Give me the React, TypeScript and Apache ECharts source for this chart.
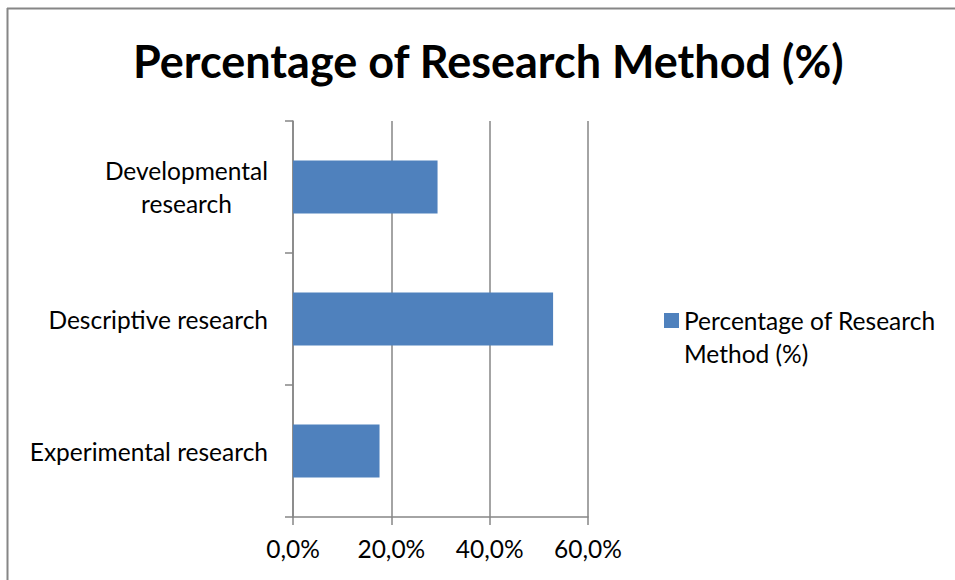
import React, { useEffect, useRef } from "react";
import * as echarts from "echarts";

const categories = ["Experimental research", "Descriptive research", "Developmental research"];
const values = [17.6, 52.9, 29.4];
const seriesName = "Percentage of Research Method (%)";
const titleText = "Percentage of Research Method (%)";
const axisMin = 0;
const axisMax = 60;
const axisInterval = 20;

const FONT = "Lato";
const GRAY = "#868686";
const FS = 24.5;

export default function App() {
  const ref = useRef<HTMLDivElement>(null);
  useEffect(() => {
    if (!ref.current) return;
    const chart = echarts.init(ref.current, null, { renderer: "svg" });
    chart.setOption({
      animation: false,
      backgroundColor: "#ffffff",
      textStyle: { fontFamily: FONT },
      title: {
        text: titleText,
        left: 128,
        top: 33,
        textStyle: { fontFamily: FONT, fontWeight: "bold", fontSize: 45, color: "#000" },
      },
      graphic: [
        { type: "line", shape: { x1: 7.5, y1: 8, x2: 7.5, y2: 600 }, style: { stroke: GRAY, lineWidth: 2 } },
        { type: "line", shape: { x1: 7, y1: 8.5, x2: 960, y2: 8.5 }, style: { stroke: GRAY, lineWidth: 2 } },
      ],
      legend: {
        left: 664,
        top: 271,
        padding: 0,
        itemWidth: 15,
        itemHeight: 15,
        icon: "rect",
        formatter: () => "{e| }\n{a|Percentage of Research}\n{a|Method (%)}",
        textStyle: {
          fontFamily: FONT,
          fontSize: FS,
          color: "#000",
          lineHeight: 33,
          rich: {
            e: { fontFamily: FONT, fontSize: FS, lineHeight: 33 },
            a: { fontFamily: FONT, fontSize: FS, lineHeight: 33, color: "#000" },
          },
        },
      },
      grid: { left: 293, right: 367, top: 121, bottom: 63, containLabel: false },
      xAxis: {
        type: "value",
        min: axisMin,
        max: axisMax,
        interval: axisInterval,
        axisLine: { show: true, lineStyle: { color: GRAY, width: 1.5 } },
        axisTick: { show: true, length: 8, lineStyle: { color: GRAY, width: 1.5 } },
        splitLine: { show: true, lineStyle: { color: GRAY, width: 1.5 } },
        axisLabel: {
          margin: 19,
          fontFamily: FONT,
          fontSize: FS,
          color: "#000",
          formatter: (v: number) => v.toFixed(1).replace(".", ",") + "%",
        },
      },
      yAxis: {
        type: "category",
        data: categories,
        axisLine: { show: true, lineStyle: { color: GRAY, width: 1.5 } },
        axisTick: { show: true, length: 8, lineStyle: { color: GRAY, width: 1.5 } },
        axisLabel: {
          margin: 25,
          fontFamily: FONT,
          fontSize: FS,
          color: "#000",
          lineHeight: 33,
          formatter: (v: string) =>
            v === "Developmental research" ? "{c|Developmental}\n{c|research}" : "{c|" + v + "}",
          rich: { c: { align: "center", fontFamily: FONT, fontSize: FS, color: "#000", lineHeight: 33 } },
        },
      },
      series: [
        {
          name: seriesName,
          type: "bar",
          data: values,
          barWidth: "40%",
          itemStyle: { color: "#4F81BD" },
        },
      ],
    });
    return () => chart.dispose();
  }, []);
  return (
    <div
      ref={ref}
      style={{ position: "fixed", left: 0, top: 0, width: 955, height: 580, overflow: "hidden" }}
    />
  );
}
